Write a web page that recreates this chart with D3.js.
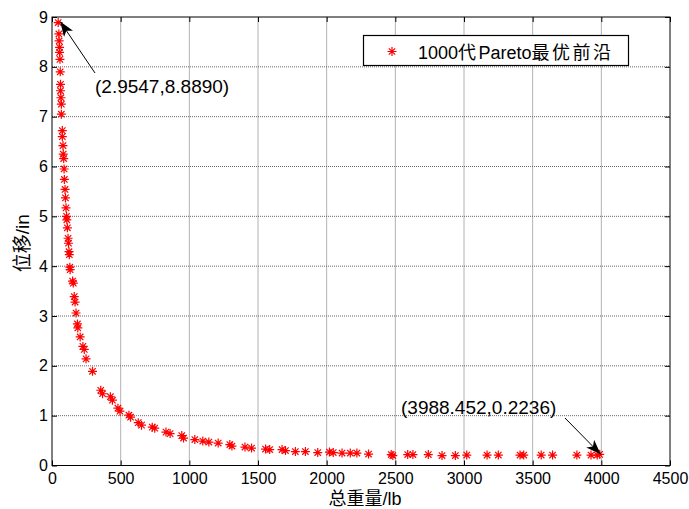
<!DOCTYPE html>
<html>
<head>
<meta charset="utf-8">
<script src="https://cdn.jsdelivr.net/npm/d3@7"></script>
<style>
  body { margin: 0; background: #fff; }
  svg text { font-family: "Liberation Sans", Arial, sans-serif; fill: #000; }
</style>
</head>
<body>
<div id="chart"></div>
<script>
// 总重量 (lb) 和 位移 (in)
var weights = [45, 50, 52, 55, 55, 58, 60, 62, 62, 65, 68, 68, 75, 75, 80, 82, 85, 88, 90, 95,
    98, 102, 106, 108, 112, 117, 120, 124, 126, 130, 132, 150, 155, 162, 168, 175, 185, 188, 205, 225,
    235, 248, 295, 355, 368, 425, 440, 480, 495, 560, 572, 628, 652, 730, 748, 830, 860, 945, 958, 1040,
    1098, 1142, 1210, 1295, 1310, 1405, 1453, 1555, 1585, 1675, 1700, 1772, 1845, 1935, 2020, 2048, 2112, 2172, 2220, 2305,
    2470, 2482, 2590, 2628, 2740, 2840, 2937, 3020, 3168, 3250, 3408, 3435, 3562, 3645, 3822, 3925, 3970, 3988];
var displacements = [8.889, 8.66, 8.52, 8.39, 8.29, 8.15, 7.90, 7.65, 7.52, 7.38, 7.25, 7.05, 6.72, 6.60, 6.42, 6.25, 6.16, 5.95, 5.74, 5.54,
    5.37, 5.17, 5.00, 4.93, 4.77, 4.56, 4.46, 4.29, 4.23, 3.98, 3.93, 3.70, 3.66, 3.39, 3.28, 3.06, 2.84, 2.76, 2.58, 2.39,
    2.33, 2.14, 1.89, 1.51, 1.44, 1.38, 1.31, 1.15, 1.09, 1.01, 0.97, 0.86, 0.81, 0.77, 0.75, 0.67, 0.64, 0.60, 0.55, 0.52,
    0.49, 0.47, 0.45, 0.42, 0.39, 0.37, 0.35, 0.33, 0.32, 0.32, 0.30, 0.28, 0.28, 0.26, 0.27, 0.26, 0.25, 0.25, 0.25, 0.23,
    0.22, 0.20, 0.22, 0.22, 0.22, 0.20, 0.20, 0.21, 0.21, 0.21, 0.21, 0.21, 0.21, 0.21, 0.21, 0.21, 0.21, 0.2236];
var xTicks = [0, 500, 1000, 1500, 2000, 2500, 3000, 3500, 4000, 4500];
var yTicks = [0, 1, 2, 3, 4, 5, 6, 7, 8, 9];
var legendParts = ["1000", "代", "Pareto", "最优前沿"];
var xLabel = ["总重量", "/lb"];
var yLabel = ["位移", "/in"];
// 标注: [x, y, 文字]
var notes = [
    [45, 8.889, "(2.9547,8.8890)"],
    [3988, 0.2236, "(3988.452,0.2236)"]
];

var width = 689, height = 509;
var margin = {top: 17, right: 19, bottom: 43.5, left: 52};
var cjk = "'Noto Sans CJK SC', sans-serif";

var svg = d3.select("#chart").append("svg")
    .attr("width", width)
    .attr("height", height);

var x = d3.scaleLinear().domain([0, 4500]).range([margin.left, width - margin.right]);
var y = d3.scaleLinear().domain([0, 9]).range([height - margin.bottom, margin.top]);

var x0 = x.range()[0], x1 = x.range()[1], y0 = y.range()[0], y1 = y.range()[1];

svg.append("defs").append("marker")
    .attr("id", "arrow")
    .attr("viewBox", "0 0 15 11")
    .attr("refX", 15).attr("refY", 5.5)
    .attr("markerWidth", 15).attr("markerHeight", 11)
    .attr("markerUnits", "userSpaceOnUse")
    .attr("orient", "auto")
    .append("path")
    .attr("d", "M0,0L15,5.5L0,11L4,5.5Z")
    .attr("fill", "#000");

// grid
var grid = svg.append("g");
grid.selectAll(".gx").data(xTicks.slice(1, -1)).enter().append("line")
    .attr("x1", function(d) { return x(d); }).attr("x2", function(d) { return x(d); })
    .attr("y1", y0).attr("y2", y1)
    .attr("stroke", "#666").attr("stroke-dasharray", "1,1");
grid.selectAll(".gy").data(yTicks.slice(1, -1)).enter().append("line")
    .attr("y1", function(d) { return y(d); }).attr("y2", function(d) { return y(d); })
    .attr("x1", x0).attr("x2", x1)
    .attr("stroke", "#666").attr("stroke-dasharray", "1,1");

// axes
var fmt = d3.format("d");
var xAxis = svg.append("g")
    .attr("transform", "translate(0," + y0 + ")")
    .call(d3.axisBottom(x).tickValues(xTicks).tickFormat(fmt).tickSizeInner(-5).tickSizeOuter(0).tickPadding(7));
var xTop = svg.append("g")
    .attr("transform", "translate(0," + y1 + ")")
    .call(d3.axisTop(x).tickValues(xTicks).tickSizeInner(-5).tickSizeOuter(0).tickFormat(""));
var yAxis = svg.append("g")
    .attr("transform", "translate(" + x0 + ",0)")
    .call(d3.axisLeft(y).tickValues(yTicks).tickFormat(fmt).tickSizeInner(-5).tickSizeOuter(0).tickPadding(4));
var yRight = svg.append("g")
    .attr("transform", "translate(" + x1 + ",0)")
    .call(d3.axisRight(y).tickValues(yTicks).tickSizeInner(-5).tickSizeOuter(0).tickFormat(""));

[xAxis, xTop, yAxis, yRight].forEach(function(a) {
    a.select(".domain").remove();
    a.selectAll("line").attr("stroke", "#000");
    a.selectAll("text").style("font-size", "16px").attr("font-family", "Liberation Sans, Arial, sans-serif");
});

svg.append("rect")
    .attr("x", x0).attr("y", y1)
    .attr("width", x1 - x0).attr("height", y0 - y1)
    .attr("fill", "none").attr("stroke", "#000").attr("stroke-width", 1);

// points
var star = "M-4.5,0H4.5M0,-4.5V4.5M-3.2,-3.2L3.2,3.2M-3.2,3.2L3.2,-3.2";
svg.append("g").selectAll("path").data(weights).enter().append("path")
    .attr("transform", function(d, i) { return "translate(" + x(d) + "," + y(displacements[i]) + ")"; })
    .attr("d", star)
    .attr("stroke", "#ff0000").attr("stroke-width", 1.2).attr("fill", "none");

// annotations
var n1 = notes[0], n2 = notes[1];
svg.append("line")
    .attr("x1", 95).attr("y1", 73)
    .attr("x2", x(n1[0]) + 2).attr("y2", y(n1[1]) - 1)
    .attr("stroke", "#000").attr("marker-end", "url(#arrow)");
svg.append("text").attr("x", 95).attr("y", 93).style("font-size", "19px").text(n1[2]);

svg.append("line")
    .attr("x1", 565).attr("y1", 418)
    .attr("x2", x(n2[0]) + 1).attr("y2", y(n2[1]))
    .attr("stroke", "#000").attr("marker-end", "url(#arrow)");
svg.append("text").attr("x", 401).attr("y", 414).style("font-size", "19px").text(n2[2]);

// legend
var lg = svg.append("g");
lg.append("rect").attr("x", 363.5).attr("y", 35.5).attr("width", 265).attr("height", 30)
    .attr("fill", "#fff").attr("stroke", "#000").attr("stroke-width", 1.2);
lg.append("path").attr("transform", "translate(392,51.5)").attr("d", star)
    .attr("stroke", "#ff0000").attr("stroke-width", 1.2).attr("fill", "none");
var lt = lg.append("text").attr("x", 418).attr("y", 58.5).style("font-size", "18px");
lt.selectAll("tspan").data(legendParts).enter().append("tspan")
    .style("font-family", function(d, i) { return i % 2 ? cjk : null; })
    .style("letter-spacing", function(d, i) { return i % 2 ? "2.5px" : null; })
    .text(function(d) { return d; });

// axis labels
var xl = svg.append("text")
    .attr("x", (x0 + x1) / 2 + 4).attr("y", 505)
    .attr("text-anchor", "middle")
    .style("font-size", "18px");
xl.append("tspan").style("font-family", cjk).text(xLabel[0]);
xl.append("tspan").text(xLabel[1]);

var yl = svg.append("text")
    .attr("transform", "translate(29," + ((y0 + y1) / 2 + 2) + ") rotate(-90)")
    .attr("text-anchor", "middle")
    .style("font-size", "19px");
yl.append("tspan").style("font-family", cjk).text(yLabel[0]);
yl.append("tspan").text(yLabel[1]);
</script>
</body>
</html>
